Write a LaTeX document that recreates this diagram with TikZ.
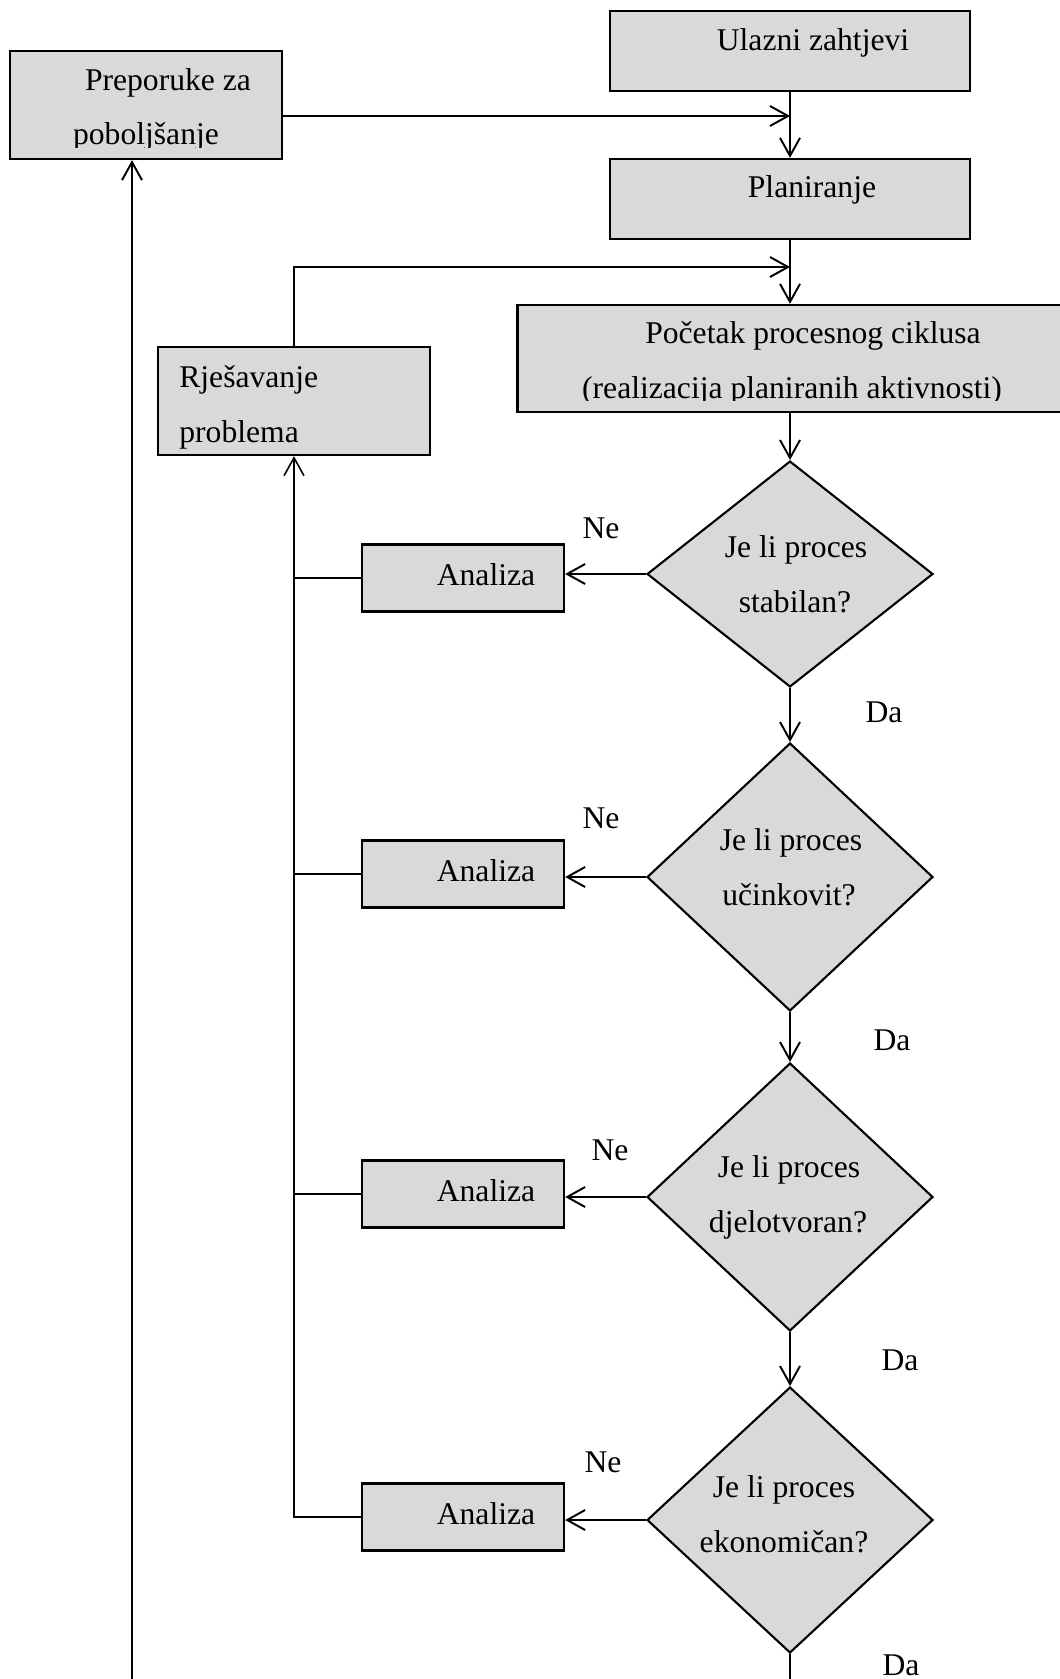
\documentclass[tikz,border=0pt]{standalone}
\usepackage{fontspec}
\setmainfont{Liberation Serif}
\usepackage{tikz}
\usetikzlibrary{shapes.geometric,arrows.meta}
\definecolor{boxgray}{RGB}{217,217,217}

\begin{document}
\begin{tikzpicture}[x=0.02cm, y=-0.02cm, font=\fontsize{18}{22}\selectfont,
    box/.style={draw, fill=boxgray, line width=1.3pt, rectangle, inner sep=0pt},
    cond/.style={draw, fill=boxgray, line width=1.2pt, diamond, inner sep=0pt, minimum width=5.72cm},
    arr/.style={line width=1.1pt, -{Straight Barb[length=3.6mm,width=4mm]}},
    txt/.style={anchor=base, inner sep=0pt}]
    \useasboundingbox (0,0) rectangle (1060,1679);
    % boxes
    \node[box, minimum width=7.2cm, minimum height=1.6cm] (ulazni) at (790,51) {};
    \node[box, minimum width=7.2cm, minimum height=1.6cm] (planiranje) at (790,199) {};
    \node[box, minimum width=5.44cm, minimum height=2.16cm] (preporuke) at (146,105) {};
    \node[box, minimum width=10.9cm, minimum height=2.14cm] (pocetak) at (790,358.5) {};
    \node[box, minimum width=5.44cm, minimum height=2.16cm] (rjesavanje) at (294,401) {};
    % conditions
    \node[cond, minimum height=4.52cm] (d1) at (790,574) {};
    \node[cond, minimum height=5.36cm] (d2) at (790,877) {};
    \node[cond, minimum height=5.36cm] (d3) at (790,1197) {};
    \node[cond, minimum height=5.32cm] (d4) at (790,1520) {};
    \foreach \i/\y in {1/578, 2/874, 3/1194, 4/1517} {
        \node[box, minimum width=4.04cm, minimum height=1.34cm] (analiza\i) at (463,\y) {};
        \node[txt] (tAnaliza\i) at (486,\y+7) {Analiza};
    }
    % texts
    \node[txt] (tUlazni) at (813,51) {Ulazni zahtjevi};
    \node[txt] (tPlaniranje) at (812,198) {Planiranje};
    \node[txt] (tPreporuke) at (168,91) {Preporuke za};
    \begin{scope}
        \clip (10,51) rectangle (282,148);
        \node[txt] (tPoboljsanje) at (146,145) {poboljšanje};
    \end{scope}
    \node[txt] (tPocetak) at (813,343) {Početak procesnog ciklusa};
    \begin{scope}
        \clip (519,305) rectangle (1060,400);
        \node[txt] (tRealizacija) at (792,398) {(realizacija planiranih aktivnosti)};
    \end{scope}
    \node[txt, anchor=base west] (tRjesavanje) at (179,387) {Rješavanje};
    \begin{scope}
        \clip (158,347) rectangle (430,448);
        \node[txt, anchor=base west] (tProblema) at (179,442) {problema};
    \end{scope}
    \node[txt] (tD1a) at (796,557) {Je li proces};
    \node[txt] (tD1b) at (795,612) {stabilan?};
    \node[txt] (tD2a) at (791,850) {Je li proces};
    \node[txt] (tD2b) at (789,905) {učinkovit?};
    \node[txt] (tD3a) at (789,1177) {Je li proces};
    \node[txt] (tD3b) at (788,1232) {djelotvoran?};
    \node[txt] (tD4a) at (784,1497) {Je li proces};
    \node[txt] (tD4b) at (784,1552) {ekonomičan?};
    \node[txt] (ne1) at (601,538) {Ne};
    \node[txt] (ne2) at (601,828) {Ne};
    \node[txt] (ne3) at (610,1160) {Ne};
    \node[txt] (ne4) at (603,1472) {Ne};
    \node[txt] (da1) at (884,722) {Da};
    \node[txt] (da2) at (892,1050) {Da};
    \node[txt] (da3) at (900,1370) {Da};
    \node[txt] (da4) at (901,1675) {Da};
    % connectors
    \coordinate (j1) at (790,116);
    \coordinate (j2) at (790,267);
    \coordinate (kraj) at (132,1690);
    \draw[arr] (ulazni) -- (planiranje);
    \draw[arr] (preporuke.east |- j1) -- (j1);
    \draw[arr] (planiranje) -- (pocetak);
    \draw[arr] (rjesavanje.north) |- (j2);
    \draw[arr] (pocetak) -- (d1);
    \draw[arr] (d1) -- (d2);
    \draw[arr] (d2) -- (d3);
    \draw[arr] (d3) -- (d4);
    \draw[line width=1.1pt] (d4.south) -- (d4.south |- kraj);
    \foreach \i in {1,2,3,4}
        \draw[arr] (d\i.west) -- (d\i.west -| analiza\i.east);
    \foreach \i in {1,2,3}
        \draw[line width=0.9pt] (analiza\i.west) -- (analiza\i.west -| rjesavanje.south);
    \draw[arr, line width=0.9pt] (analiza4.west) -| (rjesavanje.south);
    \draw[arr] (kraj) -- (kraj |- preporuke.south);
\end{tikzpicture}
\end{document}
